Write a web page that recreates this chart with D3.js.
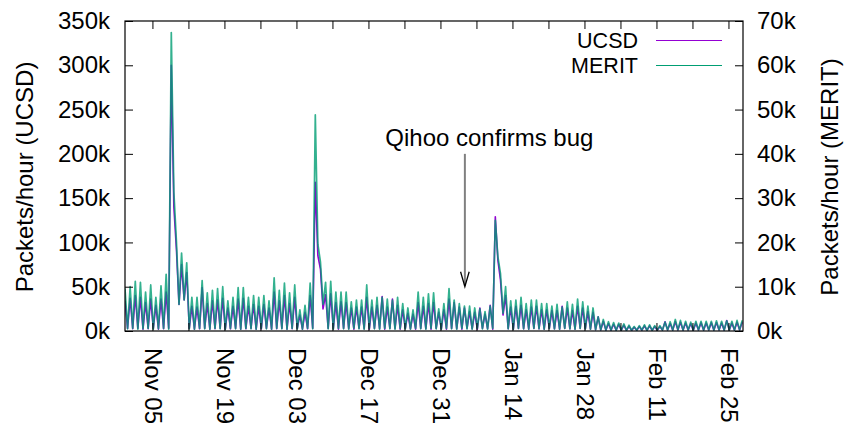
<!DOCTYPE html>
<html><head><meta charset="utf-8">
<script src="https://cdn.jsdelivr.net/npm/d3@7"></script>
<style>
body{margin:0;background:#fff}
text{font-family:"Liberation Sans",Arial,Helvetica,sans-serif;font-size:24px;fill:#000}
text.leg{font-size:21.5px}
</style>
</head><body>
<svg id="c" width="853" height="426"></svg>
<script>
// ---------------- data (thousands of packets/hour) ----------------
// one daily peak (16:00) per day starting Oct 30 2012, one trough (04:00) per day starting Oct 31
const firstDay = "2012-10-30";
const ucsdPeak = [
 34, 37, 40, 38, 32, 36, 29, 36, 44, 300,
 92, 75, 66, 28, 27, 49, 31, 34, 35, 37,
 26, 28, 36, 37, 28, 30, 28, 30, 26, 44,
 34, 40, 31, 38, 18, 21, 40, 168, 70, 41,
 42, 32, 33, 32, 26, 27, 27, 38, 27, 29,
 39, 27, 36, 29, 24, 20, 19, 32, 28, 31,
 32, 21, 24, 36, 32, 27, 26, 22, 21, 26,
 19, 29, 129, 58, 40, 27, 28, 29, 24, 27,
 28, 24, 24, 23, 23, 28, 26, 23, 28, 26,
 22, 21, 16, 11, 8.5, 7.6, 7.4, 6.5, 5.4, 4.2,
 5, 5.7, 5.8, 5, 5, 10.5, 8.5, 10.8, 10, 9,
 8.3, 9, 9.2, 9, 9.2, 9.5, 9, 11.8, 9, 10,
 10];
const ucsdTrough = [
 3, 2.5, 3, 2, 2.5, 3, 2, 2.5, 3, 140,
 30, 35, 3, 2, 2.5, 3, 2, 2.5, 3, 2,
 2.5, 3, 2, 2.5, 3, 2, 2.5, 3, 2, 2.5,
 3, 2, 2.5, 3, 2, 2.5, 3, 85, 25, 3,
 2.5, 2, 3, 2.5, 2, 3, 2.5, 2, 3, 2.5,
 2, 3, 2.5, 2, 3, 2.5, 2, 3, 2.5, 2,
 3, 2.5, 2, 3, 2.5, 2, 3, 2.5, 2, 3,
 2.5, 2, 80, 18, 2.5, 2, 3, 2.5, 2, 3,
 2.5, 2, 3, 2.5, 2, 3, 2.5, 2, 3, 2.5,
 2, 1.5, 1.2, 1, 1, 0.8, 0.9, 0.8, 0.7, 0.8,
 0.9, 0.8, 0.7, 0.8, 1, 1.1, 1, 1.2, 1, 1.1,
 1, 1.2, 1, 1.1, 1, 1.2, 1, 1.1, 1, 1.2];
const meritPeak = [
 9.6, 10.0, 11.2, 11.0, 8.8, 10.4, 7.6, 10.2, 12.8, 67.4,
 20.2, 17.6, 15.4, 7.6, 7.6, 11.4, 8.6, 9.2, 9.6, 10.0,
 6.8, 7.6, 9.8, 9.8, 7.6, 8.0, 7.6, 8.0, 6.8, 12.0,
 9.2, 10.8, 8.6, 10.4, 4.8, 5.8, 10.8, 48.8, 15.6, 11.0,
 11.2, 8.8, 8.8, 8.8, 6.6, 7.0, 7.0, 10.4, 7.0, 7.6,
 7.6, 7.2, 7.0, 7.6, 6.2, 5.2, 4.8, 8.8, 7.6, 8.4,
 8.6, 5.0, 6.2, 9.6, 7.0, 6.2, 5.6, 5.6, 5.2, 5.0,
 4.4, 5.6, 25.0, 13.0, 10.0, 6.8, 7.0, 7.6, 6.2, 7.0,
 7.0, 6.2, 6.2, 5.6, 6.0, 5.4, 6.6, 6.0, 7.2, 6.6,
 5.6, 5.2, 3.2, 2.6, 2.1, 1.9, 1.8, 1.6, 1.3, 1.0,
 1.2, 1.4, 1.4, 1.2, 1.2, 2.0, 2.1, 2.6, 2.4, 2.2,
 2.0, 2.2, 2.2, 2.2, 2.2, 2.3, 2.2, 2.3, 2.2, 2.4,
 2.4];
const meritTrough = [
 0.5, 0.6, 0.4, 0.5, 0.6, 0.4, 0.5, 0.6, 0.4, 31.4,
 6, 7, 0.5, 0.4, 0.6, 0.5, 0.4, 0.6, 0.5, 0.4,
 0.6, 0.5, 0.4, 0.6, 0.5, 0.4, 0.6, 0.5, 0.4, 0.6,
 0.5, 0.4, 0.6, 0.5, 0.4, 0.6, 0.5, 19.6, 6, 0.5,
 0.4, 0.6, 0.5, 0.4, 0.6, 0.5, 0.4, 0.6, 0.5, 0.4,
 0.6, 0.5, 0.4, 0.6, 0.5, 0.4, 0.6, 0.5, 0.4, 0.6,
 0.5, 0.4, 0.6, 0.5, 0.4, 0.6, 0.5, 0.4, 0.6, 0.5,
 0.4, 0.6, 16.8, 4, 0.5, 0.4, 0.6, 0.5, 0.4, 0.6,
 0.5, 0.4, 0.6, 0.5, 0.4, 0.6, 0.5, 0.4, 0.6, 0.5,
 0.4, 0.3, 0.25, 0.2, 0.2, 0.15, 0.2, 0.15, 0.15, 0.15,
 0.2, 0.15, 0.15, 0.2, 0.2, 0.25, 0.2, 0.25, 0.2, 0.25,
 0.2, 0.25, 0.2, 0.25, 0.2, 0.25, 0.2, 0.25, 0.2, 0.25];

const seriesNames = ["UCSD", "MERIT"];
const seriesColors = ["#9400d3", "#009e73"];
const xLabelDates = ["2012-11-05","2012-11-19","2012-12-03","2012-12-17","2012-12-31","2013-01-14","2013-01-28","2013-02-11","2013-02-25"];
const yLeftTicks = [0, 50, 100, 150, 200, 250, 300, 350];
const yRightTicks = [0, 10, 20, 30, 40, 50, 60, 70];
const annotation = {text: "Qihoo confirms bug", date: "2013-01-04T18:00", from: 200, to: 50, textAt: 209};

// ---------------- layout ----------------
const L = 125, R = 743, T = 21, B = 331;
const parse = s => new Date(s.length > 10 ? s : s + "T00:00");
const x = d3.scaleTime()
  .domain([parse("2012-10-30T16:00"), parse("2013-02-27T19:50")])
  .range([L, R]);
const yL = d3.scaleLinear().domain([0, 350]).range([B, T]);
const yR = d3.scaleLinear().domain([0, 70]).range([B, T]);

const svg = d3.select("#c");
const d0 = parse(firstDay);

function build(peaks, troughs) {
  const pts = [];
  for (let i = 0; i < peaks.length; i++) {
    const day = d3.timeDay.offset(d0, i);
    if (i > 0) pts.push({t: d3.timeHour.offset(day, 4), v: troughs[i - 1]});
    pts.push({t: d3.timeHour.offset(day, 16), v: peaks[i]});
  }
  return pts;
}

svg.append("clipPath").attr("id", "clip")
  .append("rect").attr("x", L).attr("y", T).attr("width", R - L).attr("height", B - T);

const plot = svg.append("g").attr("clip-path", "url(#clip)");
const lineL = d3.line().x(d => x(d.t)).y(d => yL(d.v));
const lineR = d3.line().x(d => x(d.t)).y(d => yR(d.v));

plot.append("path").datum(build(ucsdPeak, ucsdTrough))
  .attr("d", lineL).attr("fill", "none")
  .attr("stroke", seriesColors[0]).attr("stroke-width", 1.6)
  .attr("stroke-linejoin", "round");
plot.append("path").datum(build(meritPeak, meritTrough))
  .attr("d", lineR).attr("fill", "none")
  .attr("stroke", seriesColors[1]).attr("stroke-width", 1.7)
  .attr("stroke-opacity", 0.8)
  .attr("stroke-linejoin", "round");

// ---------------- axes ----------------
const labelSet = new Set(xLabelDates.map(s => +parse(s)));
const weekly = d3.timeMonday.range(x.domain()[0], x.domain()[1]);
const fmt = d3.timeFormat("%b %d");

const gx = svg.append("g").attr("transform", `translate(0,${B})`)
  .call(d3.axisBottom(x).tickValues(weekly).tickSizeInner(-8).tickSizeOuter(0)
    .tickFormat(d => labelSet.has(+d) ? fmt(d) : ""));
gx.select(".domain").remove();
gx.selectAll("text")
  .attr("transform", "rotate(90)")
  .attr("x", 17).attr("y", 0).attr("dy", "0.35em")
  .style("text-anchor", "start");

const gxt = svg.append("g").attr("transform", `translate(0,${T})`)
  .call(d3.axisTop(x).tickValues(weekly).tickSizeInner(-8).tickSizeOuter(0).tickFormat(""));
gxt.select(".domain").remove();

const gyl = svg.append("g").attr("transform", `translate(${L},0)`)
  .call(d3.axisLeft(yL).tickValues(yLeftTicks).tickSizeInner(-8).tickSizeOuter(0)
    .tickPadding(15).tickFormat(d => d + "k"));
gyl.select(".domain").remove();

const gyr = svg.append("g").attr("transform", `translate(${R},0)`)
  .call(d3.axisRight(yR).tickValues(yRightTicks).tickSizeInner(-8).tickSizeOuter(0)
    .tickPadding(14).tickFormat(d => d + "k"));
gyr.select(".domain").remove();

svg.selectAll(".tick line").attr("stroke", "#000").attr("stroke-width", 1);

svg.append("rect").attr("x", L).attr("y", T).attr("width", R - L).attr("height", B - T)
  .attr("fill", "none").attr("stroke", "#000").attr("stroke-width", 1.2);

// axis titles
svg.append("text").attr("transform", `translate(33,${(T + B) / 2 + 1}) rotate(-90)`)
  .attr("text-anchor", "middle").text("Packets/hour (UCSD)");
svg.append("text").attr("transform", `translate(838,${(T + B) / 2 + 1}) rotate(-90)`)
  .attr("text-anchor", "middle").text("Packets/hour (MERIT)");

// legend
seriesNames.forEach((name, i) => {
  const yy = 40.5 + i * 25;
  svg.append("text").attr("class", "leg").attr("x", 638).attr("y", yy).attr("dy", "0.35em")
    .attr("text-anchor", "end").text(name);
  svg.append("line").attr("x1", 656).attr("x2", 722).attr("y1", yy).attr("y2", yy)
    .attr("stroke", seriesColors[i]).attr("stroke-width", 1.2);
});

// annotation
const ax = x(parse(annotation.date));
svg.append("text").attr("x", ax + 24.5).attr("y", yL(annotation.textAt))
  .attr("text-anchor", "middle").text(annotation.text);
svg.append("line").attr("x1", ax).attr("x2", ax)
  .attr("y1", yL(annotation.from)).attr("y2", yL(annotation.to) - 1)
  .attr("stroke", "#808080").attr("stroke-width", 2);
svg.append("path")
  .attr("d", `M${ax - 4.3},${yL(annotation.to) - 15}L${ax},${yL(annotation.to)}L${ax + 4.3},${yL(annotation.to) - 15}`)
  .attr("fill", "none").attr("stroke", "#000").attr("stroke-width", 1.3);
</script>
</body></html>
